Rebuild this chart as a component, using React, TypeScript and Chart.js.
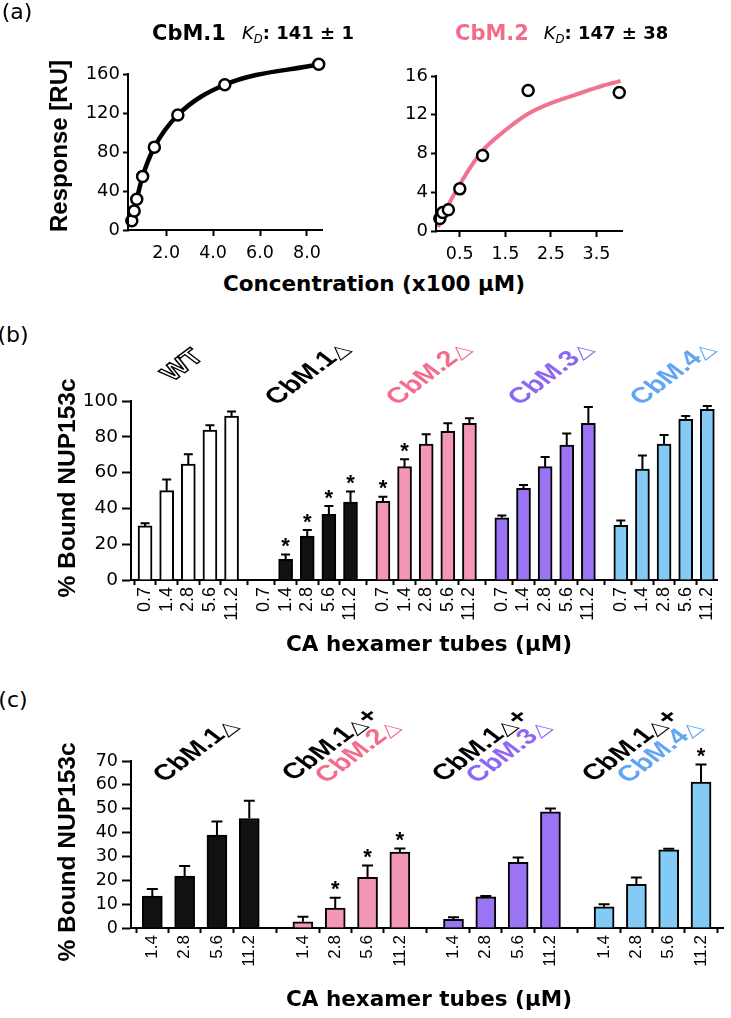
import React, { useEffect, useRef } from 'react';
import { Chart, registerables } from 'chart.js';
Chart.register(...registerables);

// ---------- Panel (a) data ----------
const cbm1Conc = [0.54, 0.64, 0.75, 1.0, 1.5, 2.5, 4.5, 8.5];
const cbm1Resp = [9.5, 19.5, 31.5, 55, 85, 118, 149, 170];
const cbm2Conc = [0.0625, 0.125, 0.25, 0.5, 1, 2, 4];
const cbm2Resp = [1.3, 1.9, 2.2, 4.35, 7.8, 14.5, 14.3];
const cbm2FitConc = [0.02, 0.25, 0.5, 0.75, 1, 1.5, 2, 2.5, 3, 3.5, 4.03];
const cbm2FitResp = [0.4, 2.7, 4.8, 6.7, 8.3, 10.4, 12.1, 13.2, 14.0, 14.8, 15.5];
const aLeftXTicks = [2, 4, 6, 8];
const aLeftYTicks = [0, 40, 80, 120, 160];
const aRightXTicks = [0.5, 1.5, 2.5, 3.5];
const aRightYTicks = [0, 4, 8, 12, 16];

// ---------- Panel (b) data ----------
const concB = ['0.7', '1.4', '2.8', '5.6', '11.2'];
const wtB = [30.2, 49.9, 64.8, 83.8, 91.6];
const wtErrB = [1.5, 6.3, 5.4, 2.6, 2.6];
const wtStarB = [0, 0, 0, 0, 0];
const cbm1B = [null, 11.5, 24.6, 36.7, 43.6];
const cbm1ErrB = [0, 2.8, 3.3, 4.6, 5.9];
const cbm1StarB = [0, 1, 1, 1, 1];
const cbm2B = [43.9, 63.3, 76.0, 83.1, 87.5];
const cbm2ErrB = [2.6, 4.1, 5.4, 4.5, 2.8];
const cbm2StarB = [1, 1, 0, 0, 0];
const cbm3B = [34.8, 51.2, 63.3, 75.4, 87.5];
const cbm3ErrB = [1.3, 1.9, 5.4, 6.5, 9.1];
const cbm3StarB = [0, 0, 0, 0, 0];
const cbm4B = [30.5, 62.0, 76.0, 89.8, 95.3];
const cbm4ErrB = [2.8, 7.5, 5.0, 1.8, 1.9];
const cbm4StarB = [0, 0, 0, 0, 0];

// ---------- Panel (c) data ----------
const concC = ['1.4', '2.8', '5.6', '11.2'];
const cbm1C = [13.4, 21.8, 38.9, 45.9];
const cbm1ErrC = [2.9, 4.2, 5.7, 7.4];
const cbm1StarC = [0, 0, 0, 0];
const cbm12C = [2.6, 8.4, 21.2, 31.8];
const cbm12ErrC = [2.1, 4.3, 5.0, 1.5];
const cbm12StarC = [0, 1, 1, 1];
const cbm13C = [3.6, 13.1, 27.5, 48.7];
const cbm13ErrC = [0.9, 0.3, 2.1, 1.4];
const cbm13StarC = [0, 0, 0, 0];
const cbm14C = [8.9, 18.3, 32.8, 61.2];
const cbm14ErrC = [1.1, 2.9, 0.4, 7.3];
const cbm14StarC = [0, 0, 0, 1];

// ---------- styles ----------
const WHITE = '#ffffff';
const BLACK = '#111111';
const PINK_BAR = '#F497B7';
const PURPLE_BAR = '#9B74F6';
const BLUE_BAR = '#83CBF4';
const PINK_TXT = '#F46B8C';
const PURPLE_TXT = '#8D67F3';
const BLUE_TXT = '#62A6F3';
const PINK_LINE = '#F27290';

const DEJ = '"DejaVu Sans", sans-serif';
const LIB = '"Liberation Sans", Arial, sans-serif';

Chart.defaults.color = '#000';
Chart.defaults.font.family = 'DejaVu Sans';

const axisLook = (tickLength: number, showBorder = true) => ({
  border: { display: showBorder, color: '#000', width: 2 },
  grid: {
    display: true,
    drawOnChartArea: false,
    drawTicks: true,
    tickLength,
    tickWidth: 2,
    tickColor: '#000',
    color: '#000',
  },
});

function ChartBox({ left, top, width, height, make }: any) {
  const ref = useRef<HTMLCanvasElement>(null);
  useEffect(() => {
    const chart = new Chart(ref.current as HTMLCanvasElement, make());
    return () => chart.destroy();
  }, []);
  return (
    <canvas
      ref={ref}
      width={width}
      height={height}
      style={{ position: 'absolute', left, top, width, height }}
    />
  );
}

function Txt({ x, y, children, size, bold = false, color = '#000', family = DEJ, rot = 0, sx = 1, style = {} }: any) {
  return (
    <div
      style={{
        position: 'absolute',
        left: x,
        top: y,
        transform: `translate(-50%,-50%) scaleX(${sx}) rotate(${rot}deg)`,
        fontFamily: family,
        fontSize: size,
        fontWeight: bold ? 700 : 400,
        color,
        whiteSpace: 'nowrap',
        lineHeight: 1,
        ...style,
      }}
    >
      {children}
    </div>
  );
}

const Tri = () => (
  <span style={{ fontWeight: 400, fontFamily: DEJ, fontSize: '0.8em' }}>△</span>
);

// ---------- scatter panels ----------
function makeScatter(opts: any) {
  const pts = opts.xs.map((x: number, i: number) => ({ x, y: opts.ys[i] }));
  const line = opts.lxs.map((x: number, i: number) => ({ x, y: opts.lys[i] }));
  const yTop = opts.yticks[opts.yticks.length - 1];
  const axisLine = {
    id: 'yAxisLine',
    afterDraw(chart: any) {
      const ys = chart.scales.y;
      const x = chart.chartArea.left - 1;
      const ctx = chart.ctx;
      ctx.save();
      ctx.strokeStyle = '#000';
      ctx.lineWidth = 2;
      ctx.beginPath();
      ctx.moveTo(x, ys.getPixelForValue(0) + 1);
      ctx.lineTo(x, ys.getPixelForValue(yTop) - 1);
      ctx.stroke();
      ctx.restore();
    },
  };
  return {
    type: 'scatter',
    data: {
      datasets: [
        {
          data: pts,
          showLine: false,
          pointRadius: 5.5,
          pointBackgroundColor: '#fff',
          pointBorderColor: '#000',
          pointBorderWidth: 2.5,
          clip: false,
        },
        {
          data: line,
          showLine: true,
          borderColor: opts.lineColor,
          borderWidth: opts.lineWidth,
          pointRadius: 0,
          cubicInterpolationMode: 'monotone',
          clip: false,
        },
      ],
    },
    plugins: [axisLine],
    options: {
      animation: false,
      responsive: false,
      devicePixelRatio: 1,
      events: [],
      layout: { padding: { left: 0, top: opts.padTop, right: opts.padRight, bottom: 0 } },
      plugins: { legend: { display: false }, tooltip: { enabled: false } },
      scales: {
        x: {
          type: 'linear',
          min: opts.xmin,
          max: opts.xmax,
          ...axisLook(6),
          afterBuildTicks: (s: any) => {
            s.ticks = opts.xticks.map((v: number) => ({ value: v }));
          },
          afterFit: (s: any) => {
            s.height = opts.xH;
          },
          ticks: {
            autoSkip: false,
            maxRotation: 0,
            padding: 7,
            font: { family: 'DejaVu Sans', size: 17.5 },
            color: '#000',
            callback: (v: number) => v.toFixed(1),
          },
        },
        y: {
          type: 'linear',
          min: 0,
          max: opts.yscaleMax,
          ...axisLook(6, false),
          afterBuildTicks: (s: any) => {
            s.ticks = opts.yticks.map((v: number) => ({ value: v }));
          },
          afterFit: (s: any) => {
            s.width = opts.yW;
          },
          ticks: {
            autoSkip: false,
            padding: 3,
            font: { family: 'DejaVu Sans', size: 18 },
            color: '#000',
            callback: (v: number) => String(v),
          },
        },
      },
    },
  };
}

// ---------- bar panels ----------
function makeBars(opts: any) {
  const data: any[] = [];
  const colors: string[] = [];
  const errs: number[] = [];
  const stars: number[] = [];
  const pos: number[] = [];
  opts.groups.forEach((g: any, gi: number) => {
    g.vals.forEach((v: any, i: number) => {
      const x = gi * opts.stride + i;
      pos.push(x);
      data.push({ x, y: v });
      colors.push(g.color);
      errs.push(g.err[i]);
      stars.push(g.star[i]);
    });
  });
  const errPlugin = {
    id: 'errbars',
    afterDatasetsDraw(chart: any) {
      const ctx = chart.ctx;
      const ys = chart.scales.y;
      const meta = chart.getDatasetMeta(0);
      ctx.save();
      ctx.strokeStyle = '#000';
      ctx.fillStyle = '#000';
      ctx.lineWidth = 2;
      ctx.font = 'bold 22px "Liberation Sans"';
      ctx.textAlign = 'center';
      ctx.textBaseline = 'alphabetic';
      meta.data.forEach((bar: any, i: number) => {
        const v = data[i].y;
        if (v == null) return;
        const base = ys.getPixelForValue(v);
        const top = ys.getPixelForValue(v + errs[i]);
        ctx.beginPath();
        ctx.moveTo(bar.x, base);
        ctx.lineTo(bar.x, top);
        ctx.moveTo(bar.x - opts.cap / 2, top);
        ctx.lineTo(bar.x + opts.cap / 2, top);
        ctx.stroke();
        if (stars[i]) ctx.fillText('*', bar.x, top - 1.5);
      });
      ctx.restore();
    },
  };
  return {
    type: 'bar',
    data: {
      datasets: [
        {
          data,
          backgroundColor: colors,
          borderColor: '#000',
          borderWidth: 2,
          borderSkipped: 'start',
          barThickness: opts.barW,
        },
      ],
    },
    plugins: [errPlugin],
    options: {
      animation: false,
      responsive: false,
      devicePixelRatio: 1,
      events: [],
      layout: { padding: { left: 0, top: opts.padTop, right: opts.padRight, bottom: 0 } },
      plugins: { legend: { display: false }, tooltip: { enabled: false } },
      scales: {
        x: {
          type: 'linear',
          offset: false,
          bounds: 'data',
          min: opts.xmin,
          max: opts.xmax,
          ...axisLook(5),
          afterBuildTicks: (s: any) => {
            s.ticks = pos.map((v) => ({ value: v }));
          },
          afterFit: (s: any) => {
            s.height = opts.xH;
          },
          ticks: {
            autoSkip: false,
            minRotation: 90,
            maxRotation: 90,
            padding: 2,
            font: { family: 'Liberation Sans', size: opts.xFont },
            color: '#000',
            callback: (_v: number, i: number) => opts.labels[i % opts.labels.length],
          },
        },
        y: {
          type: 'linear',
          min: 0,
          max: opts.ymax,
          ...axisLook(9),
          afterFit: (s: any) => {
            s.width = opts.yW;
          },
          ticks: {
            autoSkip: false,
            stepSize: opts.ystep,
            padding: 4,
            font: { family: 'DejaVu Sans', size: opts.yFont },
            color: '#000',
          },
        },
      },
    },
  };
}

const groupLabel = (x: number, y: number, color: string, text: any, extra: any = {}) => (
  <Txt x={x} y={y} size={22} bold family={LIB} color={color} rot={-45} sx={1.33} style={extra}>
    {text}
  </Txt>
);

export default function App() {
  return (
    <div
      style={{
        position: 'absolute',
        left: 0,
        top: 0,
        width: 731,
        height: 1018,
        background: '#fff',
        overflow: 'hidden',
      }}
    >
      <ChartBox
        left={0}
        top={0}
        width={365}
        height={270}
        make={() =>
          makeScatter({
            xs: cbm1Conc,
            ys: cbm1Resp,
            lxs: cbm1Conc,
            lys: cbm1Resp,
            lineColor: '#000',
            lineWidth: 4.5,
            padTop: 59.4,
            padRight: 43,
            yW: 129,
            xH: 40,
            xmin: 0.42,
            xmax: 8.64,
            yscaleMax: 175,
            yticks: aLeftYTicks,
            xticks: aLeftXTicks,
          })
        }
      />
      <ChartBox
        left={365}
        top={0}
        width={366}
        height={270}
        make={() =>
          makeScatter({
            xs: cbm2Conc,
            ys: cbm2Resp,
            lxs: cbm2FitConc,
            lys: cbm2FitResp,
            lineColor: PINK_LINE,
            lineWidth: 4,
            padTop: 76,
            padRight: 109,
            yW: 72,
            xH: 39,
            xmin: 0,
            xmax: 4.06,
            yscaleMax: 16,
            yticks: aRightYTicks,
            xticks: aRightXTicks,
          })
        }
      />
      <ChartBox
        left={0}
        top={380}
        width={731}
        height={280}
        make={() =>
          makeBars({
            groups: [
              { vals: wtB, err: wtErrB, star: wtStarB, color: WHITE },
              { vals: cbm1B, err: cbm1ErrB, star: cbm1StarB, color: BLACK },
              { vals: cbm2B, err: cbm2ErrB, star: cbm2StarB, color: PINK_BAR },
              { vals: cbm3B, err: cbm3ErrB, star: cbm3StarB, color: PURPLE_BAR },
              { vals: cbm4B, err: cbm4ErrB, star: cbm4StarB, color: BLUE_BAR },
            ],
            labels: concB,
            stride: 5.5,
            barW: 14,
            cap: 9,
            padTop: 21,
            padRight: 5,
            yW: 131,
            xH: 80,
            xmin: -0.65,
            xmax: 26.46,
            ymax: 100,
            ystep: 20,
            xFont: 18,
            yFont: 18.5,
          })
        }
      />
      <ChartBox
        left={0}
        top={740}
        width={731}
        height={270}
        make={() =>
          makeBars({
            groups: [
              { vals: cbm1C, err: cbm1ErrC, star: cbm1StarC, color: BLACK },
              { vals: cbm12C, err: cbm12ErrC, star: cbm12StarC, color: PINK_BAR },
              { vals: cbm13C, err: cbm13ErrC, star: cbm13StarC, color: PURPLE_BAR },
              { vals: cbm14C, err: cbm14ErrC, star: cbm14StarC, color: BLUE_BAR },
            ],
            labels: concC,
            stride: 4.66,
            barW: 20,
            cap: 11,
            padTop: 21,
            padRight: 8,
            yW: 131,
            xH: 82,
            xmin: -0.66,
            xmax: 17.66,
            ymax: 70,
            ystep: 10,
            xFont: 17,
            yFont: 17.5,
          })
        }
      />

      {/* Panel (a) text */}
      <Txt x={17} y={12} size={22}>(a)</Txt>
      <Txt x={189} y={33} size={21} bold>CbM.1</Txt>
      <Txt x={298} y={33} size={18}>
        <span style={{ fontStyle: 'italic' }}>K</span>
        <span style={{ fontStyle: 'italic', fontSize: '0.65em', position: 'relative', top: '0.35em' }}>D</span>
        <b>: 141 ± 1</b>
      </Txt>
      <Txt x={492} y={33} size={21} bold color={PINK_TXT}>CbM.2</Txt>
      <Txt x={606} y={33} size={18}>
        <span style={{ fontStyle: 'italic' }}>K</span>
        <span style={{ fontStyle: 'italic', fontSize: '0.65em', position: 'relative', top: '0.35em' }}>D</span>
        <b>: 147 ± 38</b>
      </Txt>
      <Txt x={59} y={146} size={24} bold family={LIB} rot={-90}>Response [RU]</Txt>
      <Txt x={374} y={284} size={21.5} bold>Concentration (x100 µM)</Txt>

      {/* Panel (b) text */}
      <Txt x={13} y={335} size={22}>(b)</Txt>
      <Txt x={67} y={488} size={24.5} bold family={LIB} rot={-90}>% Bound NUP153c</Txt>
      {groupLabel(182, 365, '#fff', 'WT', { WebkitTextStroke: '1.3px #000' })}
      {groupLabel(307, 373, '#000', <>CbM.1<Tri /></>)}
      {groupLabel(428, 373, PINK_TXT, <>CbM.2<Tri /></>)}
      {groupLabel(550, 373, PURPLE_TXT, <>CbM.3<Tri /></>)}
      {groupLabel(672, 373, BLUE_TXT, <>CbM.4<Tri /></>)}
      <Txt x={429} y={644} size={21.5} bold>CA hexamer tubes (µM)</Txt>

      {/* Panel (c) text */}
      <Txt x={13} y={700} size={22}>(c)</Txt>
      <Txt x={67} y={852} size={24.5} bold family={LIB} rot={-90}>% Bound NUP153c</Txt>
      {groupLabel(195, 750, '#000', <>CbM.1<Tri /></>)}
      {groupLabel(330, 744, '#000', <>CbM.1<Tri />+</>)}
      {groupLabel(357, 751, PINK_TXT, <>CbM.2<Tri /></>)}
      {groupLabel(480, 745, '#000', <>CbM.1<Tri />+</>)}
      {groupLabel(508, 751, PURPLE_TXT, <>CbM.3<Tri /></>)}
      {groupLabel(630, 745, '#000', <>CbM.1<Tri />+</>)}
      {groupLabel(659, 751, BLUE_TXT, <>CbM.4<Tri /></>)}
      <Txt x={429} y={999} size={21.5} bold>CA hexamer tubes (µM)</Txt>
    </div>
  );
}
